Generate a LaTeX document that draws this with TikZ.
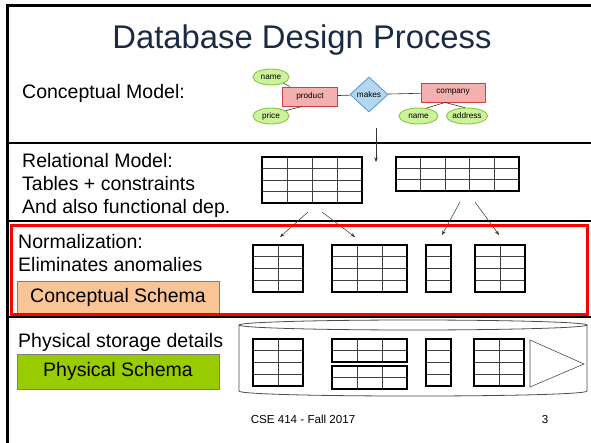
\documentclass[tikz,border=0pt]{standalone}
\usepackage{fontspec}
\setmainfont{Liberation Sans}
\usetikzlibrary{shapes.geometric,arrows.meta,calc}
\definecolor{titlecol}{HTML}{1B2A44}
\definecolor{attrfill}{HTML}{CCF29B}
\definecolor{attrdraw}{HTML}{8CC63F}
\definecolor{entfill}{HTML}{F4AFAF}
\definecolor{entdraw}{HTML}{D04040}
\definecolor{relfill}{HTML}{B4D7F0}
\definecolor{reldraw}{HTML}{5A9BD5}
\definecolor{conschema}{HTML}{FAC596}
\definecolor{physschema}{HTML}{99CC00}
\definecolor{boxgray}{HTML}{7F7F7F}
\newcommand{\tgrid}[3]{%
  \ifnum#2>1
    \foreach \i in {2,...,#2}{%
      \pgfmathsetmacro\gfr{(\i-1)/#2}%
      \draw[innerline] ($(#1.north west)!\gfr!(#1.north east)$) -- ($(#1.south west)!\gfr!(#1.south east)$);}%
  \fi
  \ifnum#3>1
    \foreach \i in {2,...,#3}{%
      \pgfmathsetmacro\gfr{(\i-1)/#3}%
      \draw[innerline] ($(#1.north west)!\gfr!(#1.south west)$) -- ($(#1.north east)!\gfr!(#1.south east)$);}%
  \fi}
\newcommand{\dbt}[7]{%
  \node[tbl, anchor=north west, minimum width=#4pt, minimum height=#5pt] (#1) at (#2,#3) {};
  \tgrid{#1}{#6}{#7}
  \draw[tblborder] (#1.north west) rectangle (#1.south east);}
\begin{document}
\begin{tikzpicture}[x=1pt,y=-1pt,
  lbl/.style={font=\fontsize{19.5}{23}\selectfont, inner sep=0},
  er/.style={font=\fontsize{8.2}{9}\selectfont, inner sep=0},
  attr/.style={er, ellipse, draw=attrdraw, fill=attrfill, line width=0.9pt},
  ent/.style={er, rectangle, draw=entdraw, fill=entfill, line width=0.9pt},
  rel/.style={er, diamond, draw=reldraw, fill=relfill, line width=0.9pt},
  erline/.style={line width=0.6pt, black!80},
  tbl/.style={inner sep=0, outer sep=0},
  tblborder/.style={line width=1.6pt},
  innerline/.style={line width=0.9pt, black!75},
  flow/.style={line width=0.5pt, black!80, -{Stealth[length=4.5pt,width=3.5pt]}},
  sep/.style={line width=1.2pt},
  schema/.style={lbl, draw=boxgray, line width=0.8pt, minimum width=202pt}]
\useasboundingbox (0,0) rectangle (591,443);
% frame
\draw[line width=2.2pt] (7.5,443) -- (7.5,5.5) -- (591,5.5);
\draw[sep] (7.5,143) -- (591,143);
\draw[sep] (7.5,221) -- (591,221);
\draw[sep] (7.5,317) -- (591,317);
% title
\node[font=\fontsize{32.8}{38}\selectfont, text=titlecol, inner sep=0, anchor=base] (title) at (302,48.5) {Database Design Process};
% left labels
\node[lbl, anchor=base west] (cm) at (22,98.5) {Conceptual Model:};
\node[lbl, anchor=base west] (rm1) at (22,167.5) {Relational Model:};
\node[lbl, anchor=base west] (rm2) at (22,190.5) {Tables + constraints};
\node[lbl, anchor=base west] (rm3) at (22,213.5) {And also functional dep.};
\node[lbl, anchor=base west] (nm1) at (18,249) {Normalization:};
\node[lbl, anchor=base west] (nm2) at (18,272) {Eliminates anomalies};
\node[schema, fill=conschema, minimum height=33pt] (cs) at (118,297.5) {Conceptual Schema};
\node[lbl, anchor=base west] (ps) at (18,347) {Physical storage details};
\node[schema, fill=physschema, minimum height=35pt] (phs) at (118,371.5) {Physical Schema};
% ER diagram
\node[attr, minimum width=36pt, minimum height=16pt] (name1) at (271,77) {name};
\node[attr, minimum width=36pt, minimum height=16pt] (price) at (271,116) {price};
\node[ent, minimum width=55pt, minimum height=19pt] (product) at (310,96.5) {product};
\node[rel, minimum width=38pt, minimum height=35pt] (makes) at (369,94.5) {makes};
\node[ent, minimum width=64pt, minimum height=19pt] (company) at (453,92.5) {company};
\node[attr, minimum width=39pt, minimum height=16pt] (name2) at (418.5,116) {name};
\node[attr, minimum width=38pt, minimum height=16pt] (address) at (467,116) {address};
\draw[erline] (name1) -- (product);
\draw[erline] (price.20) -- ([xshift=-8pt]product.south);
\draw[erline] (product) -- (makes);
\draw[erline] (makes) -- (company);
\draw[erline] ([xshift=-8pt]company.south) -- (name2.45);
\draw[erline] ([xshift=-8pt]company.south) -- (address.105);
\coordinate (erdown) at (376,128);
\coordinate (reltop) at (376,162);
\draw[flow] (erdown) -- (reltop);
% relational tables
\dbt{r1}{262}{157}{100}{46}{4}{4}
\dbt{r2}{396}{157}{123}{34}{5}{3}
% normalized tables
\dbt{n1}{253}{245}{50}{47}{2}{4}
\dbt{n2}{332}{245}{75}{47}{3}{4}
\dbt{n3}{426}{245}{25}{47}{1}{4}
\dbt{n4}{475}{245}{50}{47}{2}{4}
\draw[flow] ($(r1.south)+(-4,9)$) -- ($(n1.north)+(2,-8)$);
\draw[flow] ($(r1.south)+(10,9)$) -- ($(n2.north)+(-14.5,-8)$);
\draw[flow] ($(r2.south)+(2.5,11)$) -- ($(n3.north)+(3.5,-10)$);
\draw[flow] ($(r2.south)+(17.5,11)$) -- ($(n4.north)+(-1,-10)$);
% red highlight
\draw[red, line width=3pt] (11.5,226) rectangle (587,314.5);
% storage cylinder
\draw[black!70, line width=0.8pt] (413,325) ellipse [x radius=174, y radius=5];
\draw[black!70, line width=0.8pt] (239,325) -- (239,391) .. controls (239,397.7) and (587,397.7) .. (587,391) -- (587,325);
\dbt{p1}{253}{339}{50}{47}{2}{4}
\dbt{p2a}{332}{339}{75}{23}{3}{2}
\dbt{p2b}{332}{366}{75}{23}{3}{2}
\dbt{p3}{426}{339}{25}{47}{1}{4}
\dbt{p4}{474}{339}{50}{47}{2}{4}
\draw[black!70, line width=0.6pt] (530,340) -- (530,387) -- (584,364) -- cycle;
% footer
\node[font=\fontsize{11.6}{14}\selectfont, inner sep=0, anchor=base] (foot) at (303,423) {CSE 414 - Fall 2017};
\node[font=\fontsize{11.6}{14}\selectfont, inner sep=0, anchor=base] (pageno) at (545,423) {3};
\end{tikzpicture}
\end{document}
